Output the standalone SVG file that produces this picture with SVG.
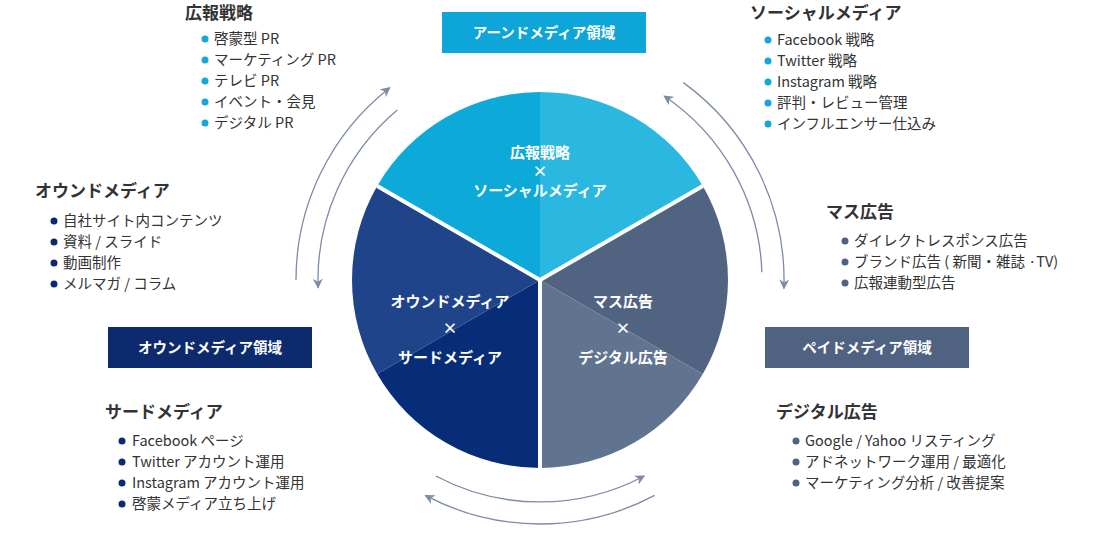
<svg xmlns="http://www.w3.org/2000/svg" width="1100" height="540" viewBox="0 0 1100 540">
<style>
text{font-family:"Noto Sans CJK JP","Noto Sans",sans-serif}
.h{font-size:17px;font-weight:bold;fill:#333}
.i{font-size:14.5px;fill:#333}
.c{font-size:15px;font-weight:bold;fill:#fff;text-anchor:middle}
.b{font-size:14.5px;font-weight:bold;fill:#fff;text-anchor:middle}
.arc{fill:none;stroke:#7d8ba6;stroke-width:1.3;marker-end:url(#ah)}
.cy{fill:#12a8dc}.nv{fill:#0d2a6e}.sl{fill:#4f6282}
</style>
<defs>
<marker id="ah" viewBox="0 0 10 10" refX="9" refY="5" markerWidth="10" markerHeight="10" markerUnits="userSpaceOnUse" orient="auto">
<path d="M0,0 L10,5 L0,10 L3,5 Z" fill="#7d8ba6"/>
</marker>
</defs>
<g id="pie">
<path d="M540,280 L377.2,186 A188,188 0 0 1 540,92 Z" fill="#0da9d8"/>
<path d="M540,280 L540,92 A188,188 0 0 1 702.8,186 Z" fill="#2bb8e0"/>
<path d="M540,280 L702.8,186 A188,188 0 0 1 702.8,374 Z" fill="#506482"/>
<path d="M540,280 L702.8,374 A188,188 0 0 1 540,468 Z" fill="#60738f"/>
<path d="M540,280 L540,468 A188,188 0 0 1 377.2,374 Z" fill="#072d78"/>
<path d="M540,280 L377.2,374 A188,188 0 0 1 377.2,186 Z" fill="#20448a"/>
<path d="M540,280 L377.2,186 M540,280 L702.8,186 M540,280 L540,470" stroke="#fff" stroke-width="4"/>
</g>
<g id="center-top"><text class="c" x="540" y="158">広報戦略</text><text class="c" x="540" y="177">×</text><text class="c" x="540" y="196">ソーシャルメディア</text></g>
<g id="center-left"><text class="c" x="450" y="307">オウンドメディア</text><text class="c" x="450" y="334">×</text><text class="c" x="450" y="363">サードメディア</text></g>
<g id="center-right"><text class="c" x="623" y="307">マス広告</text><text class="c" x="623" y="334">×</text><text class="c" x="623" y="363">デジタル広告</text></g>
<g id="connectors">
<path class="arc" d="M296,280 A244,244 0 0 1 389.8,87.7"/>
<path class="arc" d="M397.3,109.9 A222,222 0 0 0 318.1,287.7"/>
<path class="arc" d="M683.4,82.6 A244,244 0 0 1 783.9,288.5"/>
<path class="arc" d="M761.9,272.3 A222,222 0 0 0 664.1,96"/>
<path class="arc" d="M435.8,476 A222,222 0 0 0 644.2,476"/>
<path class="arc" d="M654.6,495.4 A244,244 0 0 1 425.4,495.4"/>
</g>
<g id="box-earned"><rect x="442" y="12" width="204" height="41" fill="#0ea5d8"/><text class="b" x="544" y="38">アーンドメディア領域</text></g>
<g id="box-owned"><rect x="108" y="327" width="204" height="41" fill="#0d2a6e"/><text class="b" x="210" y="353">オウンドメディア領域</text></g>
<g id="box-paid"><rect x="765" y="327" width="204" height="41" fill="#4f6282"/><text class="b" x="867" y="353">ペイドメディア領域</text></g>
<g id="list-pr">
<text class="h" x="185" y="19">広報戦略</text>
<circle class="cy" cx="205" cy="39" r="3.5"/><text class="i" x="214" y="44">啓蒙型 PR</text>
<circle class="cy" cx="205" cy="60" r="3.5"/><text class="i" x="214" y="65">マーケティング PR</text>
<circle class="cy" cx="205" cy="81" r="3.5"/><text class="i" x="214" y="86">テレビ PR</text>
<circle class="cy" cx="205" cy="102" r="3.5"/><text class="i" x="214" y="107">イベント・会見</text>
<circle class="cy" cx="205" cy="123" r="3.5"/><text class="i" x="214" y="128">デジタル PR</text>
</g>
<g id="list-social">
<text class="h" x="750" y="19">ソーシャルメディア</text>
<circle class="cy" cx="768" cy="40" r="3.5"/><text class="i" x="777" y="45">Facebook 戦略</text>
<circle class="cy" cx="768" cy="61" r="3.5"/><text class="i" x="777" y="66">Twitter 戦略</text>
<circle class="cy" cx="768" cy="82" r="3.5"/><text class="i" x="777" y="87">Instagram 戦略</text>
<circle class="cy" cx="768" cy="103" r="3.5"/><text class="i" x="777" y="108">評判・レビュー管理</text>
<circle class="cy" cx="768" cy="124" r="3.5"/><text class="i" x="777" y="129">インフルエンサー仕込み</text>
</g>
<g id="list-owned">
<text class="h" x="35" y="197">オウンドメディア</text>
<circle class="nv" cx="54" cy="221" r="3.5"/><text class="i" x="63" y="226">自社サイト内コンテンツ</text>
<circle class="nv" cx="54" cy="242" r="3.5"/><text class="i" x="63" y="247">資料 / スライド</text>
<circle class="nv" cx="54" cy="263" r="3.5"/><text class="i" x="63" y="268">動画制作</text>
<circle class="nv" cx="54" cy="284" r="3.5"/><text class="i" x="63" y="289">メルマガ / コラム</text>
</g>
<g id="list-mass">
<text class="h" x="826" y="218">マス広告</text>
<circle class="sl" cx="845" cy="241" r="3.5"/><text class="i" x="854" y="246">ダイレクトレスポンス広告</text>
<circle class="sl" cx="845" cy="262" r="3.5"/><text class="i" x="854" y="267">ブランド広告 ( 新聞・雑誌 ·TV)</text>
<circle class="sl" cx="845" cy="283" r="3.5"/><text class="i" x="854" y="288">広報連動型広告</text>
</g>
<g id="list-third">
<text class="h" x="105" y="418">サードメディア</text>
<circle class="nv" cx="122" cy="441" r="3.5"/><text class="i" x="132" y="446">Facebook ページ</text>
<circle class="nv" cx="122" cy="462" r="3.5"/><text class="i" x="132" y="467">Twitter アカウント運用</text>
<circle class="nv" cx="122" cy="483" r="3.5"/><text class="i" x="132" y="488">Instagram アカウント運用</text>
<circle class="nv" cx="122" cy="504" r="3.5"/><text class="i" x="132" y="509">啓蒙メディア立ち上げ</text>
</g>
<g id="list-digital">
<text class="h" x="776" y="418">デジタル広告</text>
<circle class="sl" cx="796" cy="441" r="3.5"/><text class="i" x="805" y="446">Google / Yahoo リスティング</text>
<circle class="sl" cx="796" cy="462" r="3.5"/><text class="i" x="805" y="467">アドネットワーク運用 / 最適化</text>
<circle class="sl" cx="796" cy="483" r="3.5"/><text class="i" x="805" y="488">マーケティング分析 / 改善提案</text>
</g>
</svg>
